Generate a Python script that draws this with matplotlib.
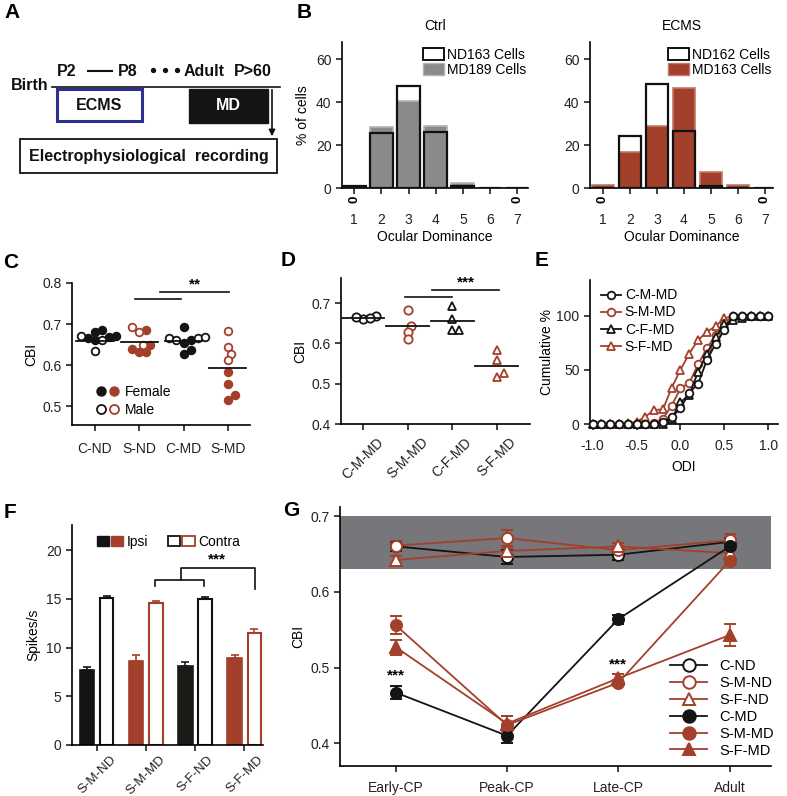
import numpy as np
import matplotlib
matplotlib.use('Agg')
import matplotlib.pyplot as plt
from matplotlib.patches import Rectangle, Patch
from matplotlib.lines import Line2D
from matplotlib.legend_handler import HandlerTuple

plt.rcParams['font.family'] = ['Liberation Sans', 'DejaVu Sans']
plt.rcParams['font.size'] = 9
plt.rcParams['axes.linewidth'] = 1.2

RED = '#a3402b'
BLK = '#141414'

# ---- data ----
# B: ocular dominance histograms (% of cells)
od = [1, 2, 3, 4, 5, 6, 7]
ctrl_nd = [1, 25.5, 47.5, 26, 1, 0, 0]
ctrl_md = [1, 28.5, 40.5, 29, 2.5, 0, 0]
ecms_nd = [0, 24, 48.5, 26.5, 1, 0, 0]
ecms_md = [1.2, 17, 29, 46.5, 7.5, 1.2, 0]
ctrl_zero = [1, 7]
ecms_zero = [1, 7]

# C: CBI per animal
groups_c = ['C-ND', 'S-ND', 'C-MD', 'S-MD']
female_c = [[0.672, 0.665, 0.68, 0.685, 0.66, 0.668],
            [0.685, 0.632, 0.632, 0.64, 0.65],
            [0.692, 0.628, 0.636, 0.66, 0.655],
            [0.583, 0.555, 0.526, 0.514]]
male_c = [[0.635, 0.67, 0.66],
          [0.692, 0.68, 0.648],
          [0.665, 0.665, 0.66, 0.668],
          [0.683, 0.643, 0.627, 0.612]]
mean_c = [0.659, 0.657, 0.659, 0.594]

# D: CBI by sex
groups_d = ['C-M-MD', 'S-M-MD', 'C-F-MD', 'S-F-MD']
vals_d = [[0.668, 0.66, 0.662, 0.666],
          [0.683, 0.644, 0.628, 0.611],
          [0.693, 0.66, 0.634, 0.632],
          [0.584, 0.558, 0.526, 0.517]]
mean_d = [0.664, 0.642, 0.655, 0.543]

# E: cumulative ODI distributions
odi = [-1.0, -0.9, -0.8, -0.7, -0.6, -0.5, -0.4, -0.3, -0.2, -0.1, 0.0,
       0.1, 0.2, 0.3, 0.4, 0.5, 0.6, 0.7, 0.8, 0.9, 1.0]
cum_cm = [0, 0, 0, 0, 0, 0, 0, 0, 1.8, 6.2, 14.5, 29, 37, 59, 74, 87, 100, 100, 100, 100, 100]
cum_sm = [0, 0, 0, 0, 0, 0, 0, 1, 5, 17, 33, 38, 55, 70, 82, 93, 100, 100, 100, 100, 100]
cum_cf = [0, 0, 0, 0, 0, 0, 0, 0, 0, 5, 20, 27, 48, 65, 80, 92, 96, 98, 100, 100, 100]
cum_sf = [0, 0, 0, 0, 0.6, 2, 6.8, 13, 13.5, 33.5, 50, 65, 77.5, 85, 90.5, 97.5, 100, 100, 100, 100, 100]

# F: spikes/s
groups_f = ['S-M-ND', 'S-M-MD', 'S-F-ND', 'S-F-MD']
ipsi = [7.7, 8.6, 8.1, 8.95]
ipsi_err = [0.35, 0.6, 0.4, 0.3]
contra = [15.05, 14.55, 14.95, 11.55]
contra_err = [0.27, 0.27, 0.3, 0.35]

# G: CBI over development
stages = ['Early-CP', 'Peak-CP', 'Late-CP', 'Adult']
g_names = ['C-ND', 'S-M-ND', 'S-F-ND', 'C-MD', 'S-M-MD', 'S-F-MD']
g_vals = [[0.66, 0.646, 0.649, 0.666],
          [0.661, 0.671, 0.655, 0.668],
          [0.642, 0.654, 0.66, 0.651],
          [0.467, 0.41, 0.564, 0.66],
          [0.556, 0.424, 0.48, 0.641],
          [0.527, 0.426, 0.486, 0.543]]
g_errs = [[0.006, 0.009, 0.007, 0.005],
          [0.006, 0.01, 0.005, 0.008],
          [0.005, 0.005, 0.005, 0.005],
          [0.009, 0.01, 0.006, 0.005],
          [0.012, 0.012, 0.004, 0.005],
          [0.01, 0.01, 0.005, 0.014]]
band = (0.63, 0.70)

W, H = 787, 796
fig = plt.figure(figsize=(W / 100, H / 100), dpi=100)


def ax_px(x0, y0, x1, y1):
    return fig.add_axes([x0 / W, 1 - y1 / H, (x1 - x0) / W, (y1 - y0) / H])


def style(ax):
    for s in ['top', 'right']:
        ax.spines[s].set_visible(False)
    ax.tick_params(direction='out', length=4, width=1.2, labelsize=10, colors='#222')


def swarm(vals, dx, dy):
    vals = np.asarray(vals)
    offs = np.zeros(len(vals))
    placed = []
    for i in np.argsort(vals):
        y = vals[i]
        for k in range(30):
            cands = [0.0] if k == 0 else [k * dx * 0.5, -k * dx * 0.5]
            done = False
            for c in cands:
                if all(((c - px) / dx) ** 2 + ((y - py) / dy) ** 2 >= 1 for px, py in placed):
                    offs[i] = c
                    placed.append((c, y))
                    done = True
                    break
            if done:
                break
    return offs


# ---- A: timeline ----
axA = ax_px(0, 0, 290, 190)
axA.set_xlim(0, 290)
axA.set_ylim(190, 0)
axA.axis('off')
bold = dict(fontweight='bold', fontsize=11.5, color='#111')
axA.text(11, 85, 'Birth', ha='left', va='center', **bold)
axA.plot([52, 280], [87, 87], color='#111', lw=1.2)
axA.text(57, 72, 'P2', ha='left', va='center', **bold)
axA.plot([88, 112], [71, 71], color='#111', lw=1.5)
axA.text(118, 72, 'P8', ha='left', va='center', **bold)
axA.plot([153, 165, 177], [70, 70, 70], 'o', color='#111', ms=2.8)
axA.text(184, 72, 'Adult', ha='left', va='center', **bold)
axA.text(234, 72, 'P>60', ha='left', va='center', **bold)
axA.add_patch(Rectangle((57, 89), 85, 32, fill=False, edgecolor='#2e3192', lw=2.2))
axA.text(99.5, 105, 'ECMS', ha='center', va='center', **bold)
axA.add_patch(Rectangle((189, 89), 79, 34, facecolor='#151313', edgecolor='#151313'))
axA.text(228.5, 106, 'MD', ha='center', va='center', fontweight='bold', fontsize=11.5, color='white')
axA.annotate('', xy=(272, 139), xytext=(272, 87),
             arrowprops=dict(arrowstyle='-|>', color='#111', lw=1.2, mutation_scale=9))
axA.add_patch(Rectangle((20, 139), 257, 34, fill=False, edgecolor='#111', lw=1.3))
axA.text(148.5, 156, 'Electrophysiological  recording', ha='center', va='center', **bold)

# ---- B: histograms ----
for (x0, x1, xl, nd, md, zeros, title, mdcol, mdedge, ndlab, mdlab) in [
        (342, 528, (0.55, 7.4), ctrl_nd, ctrl_md, ctrl_zero, 'Ctrl', '#8a8a8a', '#b3b3b3',
         'ND163 Cells', 'MD189 Cells'),
        (590, 773, (0.52, 7.3), ecms_nd, ecms_md, ecms_zero, 'ECMS', RED, '#c07a68',
         'ND162 Cells', 'MD163 Cells')]:
    ax = ax_px(x0, 42, x1, 188)
    style(ax)
    ax.bar(od, md, width=0.84, color=mdcol, edgecolor=mdedge, lw=1.2, zorder=2)
    ax.bar(od, nd, width=0.84, fill=False, edgecolor='#111', lw=1.6, zorder=3)
    ax.set_xlim(*xl)
    ax.set_ylim(0, 68)
    ax.set_yticks([0, 20, 40, 60])
    ax.set_xticks(od)
    ax.tick_params(axis='x', pad=14)
    for z in zeros:
        ax.text(z, -5.5, '0', rotation=90, ha='center', va='center', fontsize=9.5,
                fontweight='bold', clip_on=False)
    ax.set_title(title, fontsize=10, pad=9)
    ax.set_xlabel('Ocular Dominance', fontsize=10, labelpad=2)
    h = [Patch(facecolor='white', edgecolor='#111', lw=1.4),
         Patch(facecolor=mdcol, edgecolor=mdedge)]
    ax.legend(h, [ndlab, mdlab], loc='upper right', bbox_to_anchor=(1.02, 1.0),
              frameon=False, fontsize=10, handlelength=1.5, handleheight=0.9,
              labelspacing=0.1, handletextpad=0.2, borderaxespad=0)
    if title == 'Ctrl':
        ax.set_ylabel('% of cells', fontsize=10, labelpad=4)

# ---- C ----
axC = ax_px(72, 283, 250, 425)
style(axC)
for i in range(4):
    col = BLK if groups_c[i].startswith('C') else RED
    allv = female_c[i] + male_c[i]
    offs = swarm(allv, 0.16, 0.017)
    nf = len(female_c[i])
    axC.plot(i + offs[:nf], female_c[i], 'o', ls='none', ms=5.5, mfc=col, mec=col, mew=1.3,
             clip_on=False, zorder=3)
    axC.plot(i + offs[nf:], male_c[i], 'o', ls='none', ms=5.5, mfc='white', mec=col, mew=1.3,
             clip_on=False, zorder=3)
    axC.plot([i - 0.42, i + 0.42], [mean_c[i]] * 2, color='#111', lw=1.3, zorder=4)
axC.set_xlim(-0.52, 3.5)
axC.set_ylim(0.454, 0.8)
axC.set_yticks([0.5, 0.6, 0.7, 0.8])
axC.set_yticklabels(['0.5', '0.6', '0.7', '0.8'])
axC.set_xticks(range(4))
axC.set_xticklabels(groups_c)
axC.tick_params(axis='x', pad=8)
axC.set_ylabel('CBI', fontsize=10, labelpad=3)
axC.plot([0.9, 1.95], [0.76, 0.76], color='#111', lw=1.2, clip_on=False)
axC.plot([1.47, 3.03], [0.777, 0.777], color='#111', lw=1.2, clip_on=False)
axC.text(2.25, 0.779, '**', ha='center', va='bottom', fontsize=11, fontweight='bold')
hf = (Line2D([], [], marker='o', ls='none', ms=6.5, color=BLK),
      Line2D([], [], marker='o', ls='none', ms=6.5, color=RED))
hm = (Line2D([], [], marker='o', ls='none', ms=6.5, mfc='white', mec=BLK, mew=1.3),
      Line2D([], [], marker='o', ls='none', ms=6.5, mfc='white', mec=RED, mew=1.3))
axC.legend([hf, hm], ['Female', 'Male'], handler_map={tuple: HandlerTuple(ndivide=None, pad=0.1)},
           loc='lower left', bbox_to_anchor=(0.1, 0.02), frameon=False, fontsize=10,
           handlelength=1.8, handletextpad=0.3, labelspacing=0.25, borderaxespad=0)

# ---- D ----
axD = ax_px(341, 278, 530, 424)
style(axD)
mk_d = ['o', 'o', '^', '^']
col_d = [BLK, RED, BLK, RED]
for i in range(4):
    offs = swarm(vals_d[i], 0.15, 0.017)
    axD.plot(i + offs, vals_d[i], mk_d[i], ls='none', ms=6, mfc='white', mec=col_d[i], mew=1.3,
             zorder=3)
    axD.plot([i - 0.48, i + 0.48], [mean_d[i]] * 2, color='#111', lw=1.3, zorder=4)
axD.set_xlim(-0.49, 3.74)
axD.set_ylim(0.4, 0.762)
axD.set_yticks([0.4, 0.5, 0.6, 0.7])
axD.set_yticklabels(['0.4', '0.5', '0.6', '0.7'])
axD.set_xticks(range(4))
axD.set_xticklabels(groups_d, rotation=45, ha='center')
axD.tick_params(axis='x', pad=4)
axD.set_ylabel('CBI', fontsize=10, labelpad=3)
axD.plot([0.95, 2.0], [0.716, 0.716], color='#111', lw=1.2, clip_on=False)
axD.plot([1.55, 3.05], [0.733, 0.733], color='#111', lw=1.2, clip_on=False)
axD.text(2.3, 0.734, '***', ha='center', va='bottom', fontsize=11, fontweight='bold')

# ---- E ----
axE = ax_px(590, 280, 778, 424)
style(axE)
e_series = [('C-M-MD', cum_cm, 'o', BLK), ('S-M-MD', cum_sm, 'o', RED),
            ('C-F-MD', cum_cf, '^', BLK), ('S-F-MD', cum_sf, '^', RED)]
for name, cv, mk, col in e_series[::-1]:
    axE.plot(odi, cv, marker=mk, color=col, ms=5.5, mfc='white', mec=col, mew=1.3, lw=1.3,
             clip_on=False, label=name, zorder=3 if col == BLK else 2)
axE.set_xlim(-1.03, 1.11)
axE.set_ylim(0, 133)
axE.set_yticks([0, 50, 100])
axE.set_xticks([-1.0, -0.5, 0.0, 0.5, 1.0])
axE.set_xticklabels(['-1.0', '-0.5', '0.0', '0.5', '1.0'])
axE.tick_params(axis='x', pad=7)
axE.set_xlabel('ODI', fontsize=10, labelpad=5)
axE.set_ylabel('Cumulative %', fontsize=10, labelpad=2)
hE, lE = axE.get_legend_handles_labels()
axE.legend(hE[::-1], lE[::-1], loc='upper left', bbox_to_anchor=(0.03, 0.98), frameon=False,
           fontsize=10, handlelength=1.4, handletextpad=0.3, labelspacing=0.22, borderaxespad=0)

# ---- F ----
axF = ax_px(72, 525, 263, 745)
style(axF)
xf = np.arange(4)
ipsi_col = [BLK, RED, '#1c1a17', RED]
contra_col = ['#111', RED, '#111', RED]
axF.bar(xf - 0.2, ipsi, width=0.29, color=ipsi_col, edgecolor=ipsi_col, lw=1.2)
axF.bar(xf + 0.2, contra, width=0.27, color='white', edgecolor=contra_col, lw=1.5)
for i in range(4):
    axF.errorbar(xf[i] - 0.2, ipsi[i], yerr=[[0], [ipsi_err[i]]], fmt='none',
                 ecolor=ipsi_col[i], elinewidth=1.2, capsize=3, capthick=1.2)
    axF.errorbar(xf[i] + 0.2, contra[i], yerr=[[0], [contra_err[i]]], fmt='none',
                 ecolor=contra_col[i], elinewidth=1.2, capsize=3, capthick=1.2)
axF.set_xlim(-0.51, 3.38)
axF.set_ylim(0, 22.6)
axF.set_yticks([0, 5, 10, 15, 20])
axF.set_xticks(xf)
axF.set_xticklabels(groups_f, rotation=45, ha='center', fontsize=9.5)
axF.tick_params(axis='x', pad=2)
axF.set_ylabel('Spikes/s', fontsize=10, labelpad=4)
axF.plot([1.18, 1.18, 2.18, 2.18], [16.3, 17.0, 17.0, 16.3], color='#111', lw=1.2)
axF.plot([1.72, 1.72, 3.21, 3.21], [17.0, 18.2, 18.2, 16.05], color='#111', lw=1.2)
axF.text(2.45, 18.3, '***', ha='center', va='bottom', fontsize=11, fontweight='bold')
hI = (Patch(facecolor=BLK, edgecolor=BLK), Patch(facecolor=RED, edgecolor=RED))
hC = (Patch(facecolor='white', edgecolor='#111', lw=1.3), Patch(facecolor='white', edgecolor=RED, lw=1.3))
axF.legend([hI, hC], ['Ipsi', 'Contra'], handler_map={tuple: HandlerTuple(ndivide=None, pad=0.15)},
           loc='upper left', bbox_to_anchor=(0.1, 0.98), ncol=2, frameon=False, fontsize=10,
           handlelength=1.9, handleheight=0.7, handletextpad=0.3, columnspacing=1.4, borderaxespad=0)

# ---- G ----
axG = ax_px(340, 507, 771, 766)
style(axG)
xg = np.arange(4)
axG.axhspan(band[0], band[1], color='#77767b', lw=0, zorder=0)
g_style = [('o', BLK, 'white'), ('o', RED, 'white'), ('^', RED, 'white'),
           ('o', BLK, BLK), ('o', RED, RED), ('^', RED, RED)]
hG = []
for name, v, e, (mk, col, fc) in zip(g_names, g_vals, g_errs, g_style):
    axG.errorbar(xg, v, yerr=e, color=col, marker=mk, ms=8, mfc=fc, mec=col, mew=1.4,
                 lw=1.3, elinewidth=1.2, capsize=4, capthick=1.2, zorder=3)
    hG.append(Line2D([], [], color=col, marker=mk, ms=9, mfc=fc, mec=col, mew=1.4, lw=1.3))
axG.set_xlim(-0.5, 3.37)
axG.set_ylim(0.37, 0.712)
axG.set_yticks([0.4, 0.5, 0.6, 0.7])
axG.set_yticklabels(['0.4', '0.5', '0.6', '0.7'])
axG.set_xticks(xg)
axG.set_xticklabels(stages)
axG.tick_params(axis='x', pad=7)
axG.set_ylabel('CBI', fontsize=10, labelpad=4)
axG.text(0, 0.48, '***', ha='center', va='bottom', fontsize=11, fontweight='bold')
axG.text(2, 0.495, '***', ha='center', va='bottom', fontsize=11, fontweight='bold')
axG.legend(hG, g_names, loc='lower right', bbox_to_anchor=(1.02, 0.01), frameon=False, fontsize=10.5,
           handlelength=2.6, handletextpad=0.8, labelspacing=0.2, borderaxespad=0)

# ---- panel letters ----
for lab, x, y in [('A', 4, 3), ('B', 297, 3), ('C', 3, 253), ('D', 281, 251),
                  ('E', 535, 251), ('F', 4, 503), ('G', 283, 501)]:
    fig.text(x / W, 1 - y / H, lab, fontsize=15, fontweight='bold', ha='left', va='top')

fig.savefig('out.png', dpi=100)
